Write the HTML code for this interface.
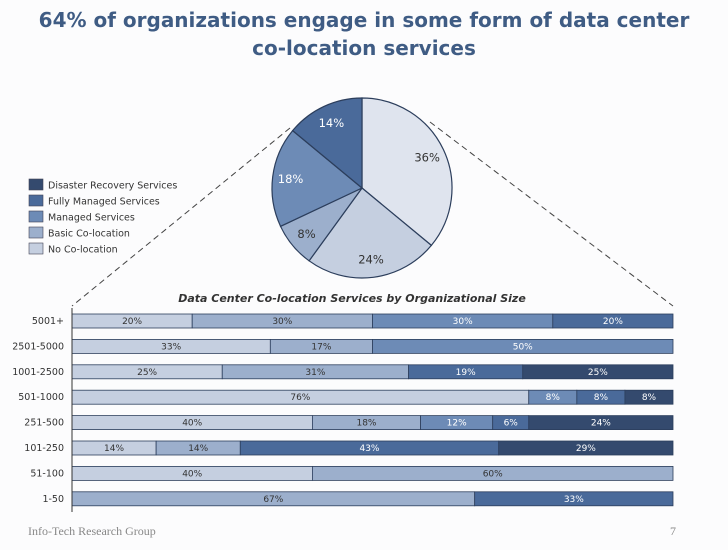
<!DOCTYPE html>
<html><head><meta charset="utf-8"><style>
body{margin:0;background:#fcfcfd;width:728px;height:546px;overflow:hidden;font-family:"DejaVu Sans","Liberation Sans",sans-serif;}
</style></head><body>
<svg width="728" height="546" xmlns="http://www.w3.org/2000/svg">
<rect width="728" height="546" fill="#fcfcfd"/>
<text x="364" y="27" text-anchor="middle" font-size="20" font-weight="bold" fill="#3f5c84">64% of organizations engage in some form of data center</text>
<text x="364" y="55" text-anchor="middle" font-size="20" font-weight="bold" fill="#3f5c84">co-location services</text>
<line x1="290" y1="128" x2="72" y2="306" stroke="#444" stroke-dasharray="6,4"/>
<line x1="430" y1="122" x2="673" y2="306" stroke="#444" stroke-dasharray="6,4"/>
<g id="pie"></g>
<g id="legend"></g>
<text x="352" y="302" text-anchor="middle" font-size="11" font-style="italic" font-weight="bold" fill="#333">Data Center Co-location Services by Organizational Size</text>
<g id="bars"></g>
<line x1="72" y1="308" x2="72" y2="512" stroke="#333"/>
<text x="28" y="535" font-family="Liberation Serif,serif" font-size="12" fill="#888">Info-Tech Research Group</text>
<text x="670" y="535" font-family="Liberation Serif,serif" font-size="12" fill="#888">7</text>
</svg>
<script>
const seriesNames=["No Co-location","Basic Co-location","Managed Services","Fully Managed Services","Disaster Recovery Services"];
const pieValues=[36,24,8,18,14];
const categories=["5001+","2501-5000","1001-2500","501-1000","251-500","101-250","51-100","1-50"];
const noColo=[20,33,25,76,40,14,40,0];
const basicColo=[30,17,31,0,18,14,60,67];
const managed=[30,50,0,8,12,0,0,0];
const fullyManaged=[20,0,19,8,6,43,0,33];
const disaster=[0,0,25,8,24,29,0,0];
const NS="http://www.w3.org/2000/svg";
const colors=["#c5cfe0","#9cafcc","#6d8bb6","#4a6a9a","#344a6e"];
const pieColors=["#dfe4ee","#c5cfe0","#9cafcc","#6d8bb6","#4a6a9a"];
function mk(t,a,p){const e=document.createElementNS(NS,t);for(const k in a)e.setAttribute(k,a[k]);p.appendChild(e);return e;}
const pie=document.getElementById('pie');
const cx=362,cy=188,r=90;let tot=pieValues.reduce((a,b)=>a+b,0),acc=0;
pieValues.forEach((v,i)=>{
 const a0=acc/tot*2*Math.PI;acc+=v;const a1=acc/tot*2*Math.PI;
 const p=(a)=>[cx+r*Math.sin(a),cy-r*Math.cos(a)];
 const [x0,y0]=p(a0),[x1,y1]=p(a1);
 const s=mk('path',{d:`M${cx},${cy}L${x0},${y0}A${r},${r} 0 ${a1-a0>Math.PI?1:0} 1 ${x1},${y1}Z`,fill:pieColors[i],stroke:"#2c3e5c","stroke-width":1.2},pie);
 
 
 const am=(a0+a1)/2,lr=r*0.8;
 const t=mk('text',{x:cx+lr*Math.sin(am),y:cy-lr*Math.cos(am)+4,"text-anchor":"middle","font-size":11.5,fill:i>=3?"#fff":"#333"},pie);
 t.textContent=v+"%";
 
 
});
const lg=document.getElementById('legend');
const legendOrder=[4,3,2,1,0];
legendOrder.forEach((si,k)=>{
 const y=179+k*16;
 const rc=mk('rect',{x:29,y:y,width:14,height:11,fill:colors[si],stroke:"#445",'stroke-width':0.6},lg);
 
 
 const t=mk('text',{x:48,y:y+9.5,"font-size":9.5,fill:"#333"},lg);
 t.textContent=seriesNames[si];
 
 
});
const bg=document.getElementById('bars');
const series=[noColo,basicColo,managed,fullyManaged,disaster];
const x0=72,W=601,top0=314,pitch=25.4,bh=14;
const xs=v=>v/100*W;
categories.forEach((c,ri)=>{
 const y=top0+ri*pitch;
 const lab=mk('text',{x:64,y:y+10,"text-anchor":"end","font-size":9.5,fill:"#333"},bg);
 lab.textContent=c;
 
 
 let sum=0;series.forEach(s=>sum+=s[ri]);
 let cum=0;
 series.forEach((s,si)=>{
  const v=s[ri];if(!v)return;
  const bx=x0+xs(cum/sum*100),bw=xs(v/sum*100);cum+=v;
  const rc=mk('rect',{x:bx,y:y,width:bw,height:bh,fill:colors[si],stroke:"#2c3e5c","stroke-width":0.8},bg);
  
  
  const t=mk('text',{x:bx+bw/2,y:y+10,"text-anchor":"middle","font-size":9,fill:si>=2?"#fff":"#333"},bg);
  t.textContent=v+"%";
  
  
 });
});
</script>
</body></html>
